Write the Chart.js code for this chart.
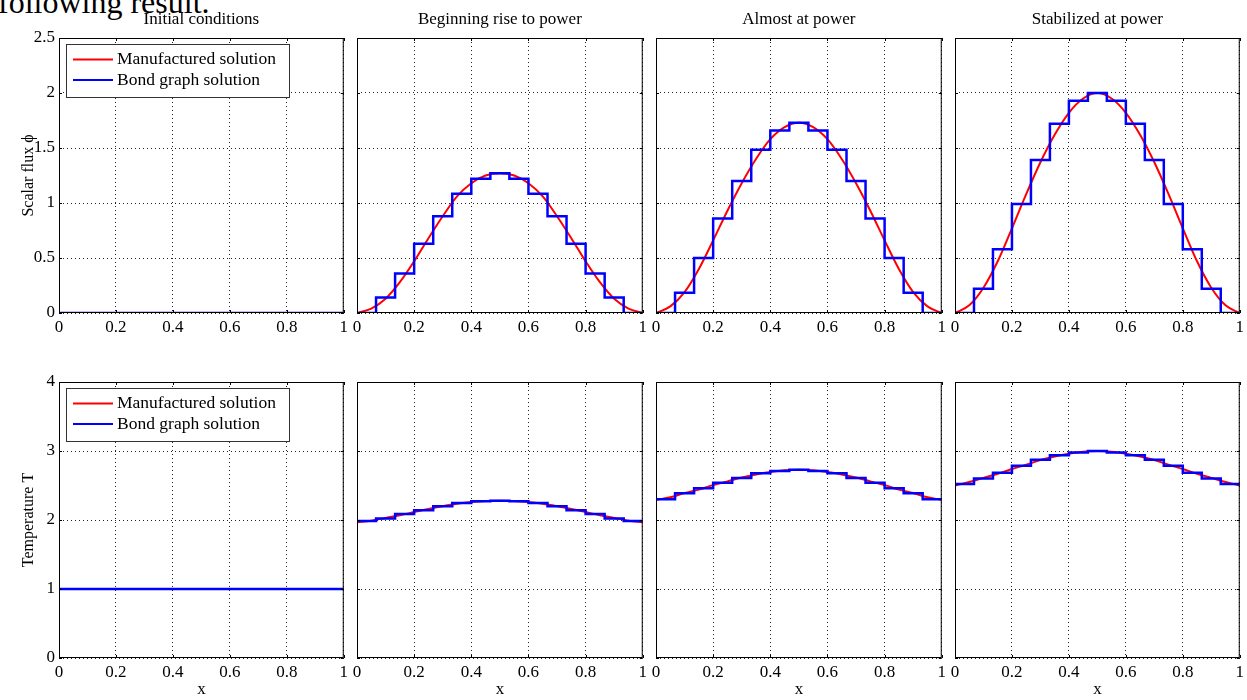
<!DOCTYPE html>
<html>
<head>
<meta charset="utf-8">
<script src="https://cdn.jsdelivr.net/npm/chart.js@4.4.0/dist/chart.umd.min.js"></script>
<style>
body { margin: 0; background: #fff; width: 1247px; height: 700px; overflow: hidden; position: relative; font-family: "Liberation Serif", "Times New Roman", serif; }
canvas { position: absolute; }
#topline { position: absolute; left: -2px; top: -14px; font-size: 32px; line-height: 32px; white-space: nowrap; color: #000; }
</style>
</head>
<body>
<div id="topline">following result.</div>
<script>
// tick labels / categories
var xTickValues = [0, 0.2, 0.4, 0.6, 0.8, 1];
var xTickLabels = ['0', '0.2', '0.4', '0.6', '0.8', '1'];
var fluxTickValues = [0, 0.5, 1, 1.5, 2, 2.5];
var fluxTickLabels = ['0', '0.5', '1', '1.5', '2', '2.5'];
var tempTickValues = [0, 1, 2, 3, 4];
var tempTickLabels = ['0', '1', '2', '3', '4'];
var panelTitles = ['Initial conditions', 'Beginning rise to power', 'Almost at power', 'Stabilized at power'];
var rowLabels = ['Scalar flux \u03d5', 'Temperature T'];
var seriesNames = ['Manufactured solution', 'Bond graph solution'];

// x positions of the smooth curve and of the cell edges of the step curve
var smoothX = [0, 0.05, 0.1, 0.15, 0.2, 0.25, 0.3, 0.35, 0.4, 0.45, 0.5, 0.55, 0.6, 0.65, 0.7, 0.75, 0.8, 0.85, 0.9, 0.95, 1];
var cellEdges = [0, 0.0667, 0.1333, 0.2, 0.2667, 0.3333, 0.4, 0.4667, 0.5333, 0.6, 0.6667, 0.7333, 0.8, 0.8667, 0.9333, 1];

// scalar flux
var fluxManufInitial = [0, 0, 0, 0, 0, 0, 0, 0, 0, 0, 0, 0, 0, 0, 0, 0, 0, 0, 0, 0, 0];
var fluxBondInitial = [0, 0, 0, 0, 0, 0, 0, 0, 0, 0, 0, 0, 0, 0, 0];
var fluxManufRise = [0, 0.04, 0.13, 0.28, 0.47, 0.68, 0.88, 1.06, 1.18, 1.25, 1.27, 1.25, 1.18, 1.06, 0.88, 0.68, 0.47, 0.28, 0.13, 0.04, 0];
var fluxBondRise = [0, 0.14, 0.36, 0.63, 0.88, 1.085, 1.22, 1.27, 1.22, 1.085, 0.88, 0.63, 0.36, 0.14, 0];
var fluxManufAlmost = [0, 0.06, 0.19, 0.40, 0.66, 0.93, 1.18, 1.40, 1.58, 1.69, 1.73, 1.69, 1.58, 1.40, 1.18, 0.93, 0.66, 0.40, 0.19, 0.06, 0];
var fluxBondAlmost = [0, 0.185, 0.50, 0.86, 1.20, 1.485, 1.66, 1.73, 1.66, 1.485, 1.20, 0.86, 0.50, 0.185, 0];
var fluxManufStable = [0, 0.07, 0.23, 0.47, 0.77, 1.08, 1.37, 1.62, 1.82, 1.95, 2.0, 1.95, 1.82, 1.62, 1.37, 1.08, 0.77, 0.47, 0.23, 0.07, 0];
var fluxBondStable = [0, 0.22, 0.58, 0.99, 1.39, 1.72, 1.93, 2.0, 1.93, 1.72, 1.39, 0.99, 0.58, 0.22, 0];

// temperature
var tempManufInitial = [1, 1, 1, 1, 1, 1, 1, 1, 1, 1, 1, 1, 1, 1, 1, 1, 1, 1, 1, 1, 1];
var tempBondInitial = [1, 1, 1, 1, 1, 1, 1, 1, 1, 1, 1, 1, 1, 1, 1];
var tempManufRise = [1.965, 1.99, 2.03, 2.07, 2.115, 2.16, 2.2, 2.235, 2.26, 2.275, 2.28, 2.275, 2.26, 2.235, 2.2, 2.16, 2.115, 2.07, 2.03, 1.99, 1.965];
var tempBondRise = [1.985, 2.02, 2.087, 2.14, 2.198, 2.246, 2.27, 2.28, 2.27, 2.246, 2.198, 2.14, 2.087, 2.02, 1.985];
var tempManufAlmost = [2.29, 2.33, 2.39, 2.44, 2.505, 2.56, 2.615, 2.66, 2.695, 2.72, 2.73, 2.72, 2.695, 2.66, 2.615, 2.56, 2.505, 2.44, 2.39, 2.33, 2.29];
var tempBondAlmost = [2.30, 2.387, 2.46, 2.54, 2.61, 2.676, 2.71, 2.73, 2.71, 2.676, 2.61, 2.54, 2.46, 2.387, 2.30];
var tempManufStable = [2.50, 2.55, 2.61, 2.67, 2.74, 2.80, 2.87, 2.92, 2.96, 2.99, 3.0, 2.99, 2.96, 2.92, 2.87, 2.80, 2.74, 2.67, 2.61, 2.55, 2.50];
var tempBondStable = [2.52, 2.60, 2.686, 2.787, 2.874, 2.937, 2.98, 3.0, 2.98, 2.937, 2.874, 2.787, 2.686, 2.60, 2.52];

// page layout of the 2x4 grid of axes
var colLeft = [59, 357, 656, 955];
var colWidth = [285, 286, 286, 285];
var rowTop = [38, 382];
var rowHeight = [275, 276];
var ML = 59, MT = 38, MR = 8, MB = 42;
var FONT = '"Liberation Serif", "Times New Roman", serif';

// matlab style box, inward ticks and boxed legend
var boxAndKey = {
    id: 'boxAndKey',
    afterDraw: function(chart, args, opts) {
        var ctx = chart.ctx;
        var a = chart.chartArea;
        var xs = chart.scales.x, ys = chart.scales.y;
        ctx.save();
        ctx.strokeStyle = '#000';
        ctx.lineWidth = 1;
        ctx.beginPath();
        xTickValues.forEach(function(v) {
            var px = Math.round(xs.getPixelForValue(v)) + 0.5;
            ctx.moveTo(px, a.bottom); ctx.lineTo(px, a.bottom - 3);
            ctx.moveTo(px, a.top); ctx.lineTo(px, a.top + 3);
        });
        opts.yTicks.forEach(function(v) {
            var py = Math.round(ys.getPixelForValue(v)) + 0.5;
            ctx.moveTo(a.left, py); ctx.lineTo(a.left + 3, py);
            ctx.moveTo(a.right, py); ctx.lineTo(a.right - 3, py);
        });
        ctx.stroke();
        ctx.strokeRect(a.left + 0.5, a.top + 0.5, a.right - a.left - 1, a.bottom - a.top - 1);

        if (opts.legend) {
            var bx = a.left + 7, by = a.top + 6;
            ctx.fillStyle = '#fff';
            ctx.fillRect(bx, by, 223, 53);
            ctx.strokeStyle = '#333';
            ctx.strokeRect(bx + 0.5, by + 0.5, 223, 53);
            ctx.font = '17.5px ' + FONT;
            ctx.textBaseline = 'middle';
            ctx.textAlign = 'left';
            var items = [chart.data.datasets[0], chart.data.datasets[1]];
            for (var i = 0; i < items.length; i++) {
                var ly = by + 15.5 + i * 20.5;
                ctx.strokeStyle = items[i].borderColor;
                ctx.lineWidth = 2;
                ctx.beginPath();
                ctx.moveTo(bx + 7, ly); ctx.lineTo(bx + 47, ly);
                ctx.stroke();
                ctx.fillStyle = '#000';
                ctx.fillText(items[i].label, bx + 51, ly);
            }
        }
        ctx.restore();
    }
};

function makePanel(row, col, manuf, bond) {
    var c = document.createElement('canvas');
    c.width = ML + colWidth[col] + MR;
    c.height = MT + rowHeight[row] + MB;
    c.style.left = (colLeft[col] - ML) + 'px';
    c.style.top = (rowTop[row] - MT) + 'px';
    document.body.appendChild(c);

    var yTicks = row == 0 ? fluxTickValues : tempTickValues;
    var yLabels = row == 0 ? fluxTickLabels : tempTickLabels;
    var smooth = smoothX.map(function(x, i) { return { x: x, y: manuf[i] }; });
    var steps = cellEdges.map(function(x, i) { return { x: x, y: bond[Math.min(i, bond.length - 1)] }; });

    new Chart(c, {
        type: 'line',
        data: {
            datasets: [{
                label: seriesNames[0],
                data: smooth,
                borderColor: '#ff0000',
                borderWidth: 2,
                pointRadius: 0,
                cubicInterpolationMode: 'monotone',
                order: 1
            }, {
                label: seriesNames[1],
                data: steps,
                borderColor: '#0000ff',
                borderWidth: 2.5,
                pointRadius: 0,
                stepped: 'before',
                order: 0
            }]
        },
        options: {
            responsive: false,
            animation: false,
            devicePixelRatio: 1,
            layout: { padding: { top: row == 0 ? 0 : MT, right: MR, left: 0, bottom: 0 } },
            plugins: {
                legend: { display: false },
                tooltip: { enabled: false },
                title: {
                    display: row == 0,
                    text: panelTitles[col],
                    fullSize: false,
                    color: '#000',
                    font: { family: FONT, size: 17, weight: 'normal' },
                    padding: { top: 9, bottom: 8.6 }
                },
                boxAndKey: { legend: col == 0, yTicks: yTicks }
            },
            scales: {
                x: {
                    type: 'linear',
                    min: 0,
                    max: 1,
                    afterBuildTicks: function(s) { s.ticks = xTickValues.map(function(v) { return { value: v }; }); },
                    afterFit: function(s) { s.height = MB; },
                    grid: { color: '#222', lineWidth: 1, drawTicks: false },
                    border: { display: false, dash: [1, 3] },
                    ticks: {
                        color: '#000', padding: 4, maxRotation: 0, font: { family: FONT, size: 17 },
                        callback: function(v, i) { return xTickLabels[i]; }
                    },
                    title: { display: row == 1, text: 'x', color: '#000', padding: { top: 0, bottom: 0 }, font: { family: FONT, size: 17 } }
                },
                y: {
                    type: 'linear',
                    min: yTicks[0],
                    max: yTicks[yTicks.length - 1],
                    afterBuildTicks: function(s) { s.ticks = yTicks.map(function(v) { return { value: v }; }); },
                    afterFit: function(s) { s.width = ML; },
                    grid: { color: '#222', lineWidth: 1, drawTicks: false },
                    border: { display: false, dash: [1, 3] },
                    ticks: {
                        display: col == 0, color: '#000', padding: 4, font: { family: FONT, size: 17 },
                        callback: function(v, i) { return yLabels[i]; }
                    },
                    title: { display: col == 0, text: rowLabels[row], color: '#000', padding: { top: 19, bottom: 0 }, font: { family: FONT, size: 16 } }
                }
            }
        },
        plugins: [boxAndKey]
    });
}

makePanel(0, 0, fluxManufInitial, fluxBondInitial);
makePanel(0, 1, fluxManufRise, fluxBondRise);
makePanel(0, 2, fluxManufAlmost, fluxBondAlmost);
makePanel(0, 3, fluxManufStable, fluxBondStable);
makePanel(1, 0, tempManufInitial, tempBondInitial);
makePanel(1, 1, tempManufRise, tempBondRise);
makePanel(1, 2, tempManufAlmost, tempBondAlmost);
makePanel(1, 3, tempManufStable, tempBondStable);
</script>
</body>
</html>
